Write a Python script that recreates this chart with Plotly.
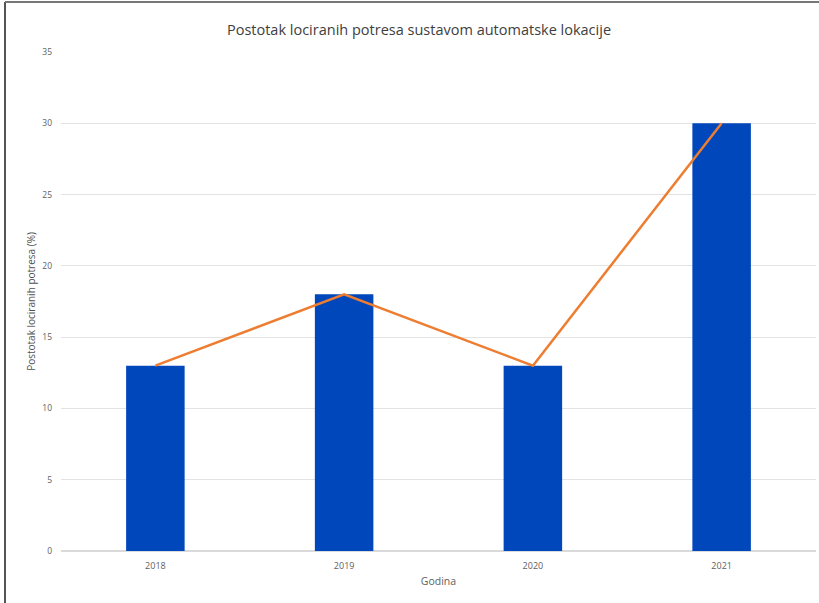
import plotly.graph_objects as go

years = ["2018", "2019", "2020", "2021"]
percent = [13, 18, 13, 30]
y_ticks = [0, 5, 10, 15, 20, 25, 30, 35]

W, H = 819, 603
L, R, T, B = 61, 3, 52, 52
pw, ph = W - L - R, H - T - B

fig = go.Figure()
fig.add_trace(go.Bar(x=years, y=percent, marker_color="#0047BB", width=0.31,
                     marker_line_width=0, showlegend=False))
fig.add_trace(go.Scatter(x=years, y=percent, mode="lines",
                         line=dict(color="#ED7D31", width=2.5), showlegend=False))

font = "Open Sans"
fig.update_layout(
    width=W, height=H,
    margin=dict(l=L, r=R, t=T, b=B),
    paper_bgcolor="white", plot_bgcolor="white",
    title=dict(text="Postotak lociranih potresa sustavom automatske lokacije",
               x=419 / W, xanchor="center", xref="container",
               y=1 - 30 / H, yanchor="middle", yref="container",
               font=dict(family=font, size=14.5, color="#404040")),
    xaxis=dict(showgrid=False, showline=False, ticks="",
               tickfont=dict(family=font, size=9, color="#606060"),
               ticklabelstandoff=8,
               title=dict(text="Godina", font=dict(family=font, size=10.5, color="#606060"),
                          standoff=6)),
    yaxis=dict(range=[0, 35], tickvals=y_ticks, showgrid=True, gridcolor="#E3E3E3",
               gridwidth=1, zeroline=True, zerolinecolor="#DADADA", showline=False,
               tickfont=dict(family=font, size=8.5, color="#606060"), ticklabelstandoff=8,
               title=dict(text="Postotak lociranih potresa (%)",
                          font=dict(family=font, size=10, color="#505050"), standoff=4)),
    bargap=0.69,
)

# chart frame (top and left edges)
x_left = (5 - L) / pw
y_top = 1 + (T - 2) / ph
fig.add_shape(type="line", xref="paper", yref="paper", x0=x_left, x1=x_left,
              y0=-B / ph - 0.01, y1=y_top, line=dict(color="#555555", width=2))
fig.add_shape(type="line", xref="paper", yref="paper", x0=x_left, x1=1 + R / pw + 0.01,
              y0=y_top, y1=y_top, line=dict(color="#777777", width=2))

fig.write_html("out.html")
